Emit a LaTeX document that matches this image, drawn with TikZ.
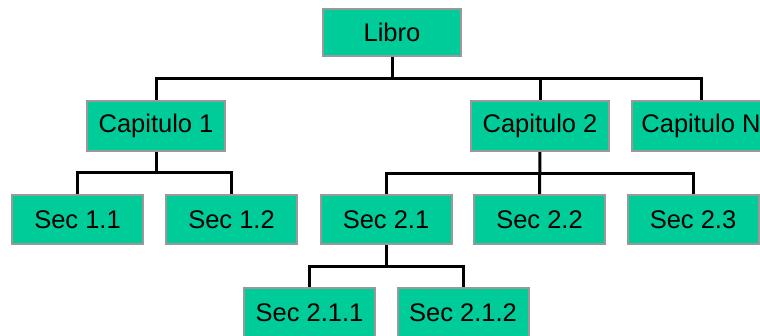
\documentclass[tikz,border=0pt]{standalone}
\usepackage{fontspec}
\setmainfont{Liberation Sans}
\definecolor{caja}{HTML}{00CC99}
\definecolor{borde}{HTML}{999999}
\begin{document}
\begin{tikzpicture}[x=1pt, y=-1pt,
        every node/.style={draw=borde, line width=2pt, fill=caja, inner sep=0pt, font=\fontsize{25.5}{28}\selectfont},
        capbox/.style={minimum width=138pt, minimum height=50pt},
        secbox/.style={minimum width=131pt, minimum height=49pt},
        linea/.style={line width=3pt}]
        \useasboundingbox (0,0) rectangle (760,335);
        \clip (0,0) rectangle (760,335);
        % nivel 0 y 1
        \node[capbox, minimum height=47pt] (libro) at (392,32) {Libro};
        \node[capbox] (c1) at (156,126) {Capitulo 1};
        \node[capbox] (c2) at (540,126) {Capitulo 2};
        \node[capbox] (cn) at (701,126) {Capitulo N};
        % secciones
        \node[secbox] (s11) at (77.5,219.5) {Sec 1.1};
        \node[secbox] (s12) at (231.5,219.5) {Sec 1.2};
        \node[secbox] (s21) at (386,219.5) {Sec 2.1};
        \node[secbox] (s22) at (539.5,219.5) {Sec 2.2};
        \node[secbox] (s23) at (693,219.5) {Sec 2.3};
        \node[secbox] (s211) at (309.5,312.5) {Sec 2.1.1};
        \node[secbox] (s212) at (463,312.5) {Sec 2.1.2};
        % barras horizontales
        \coordinate (b0) at (392,78);
        \coordinate (b1) at (156,172);
        \coordinate (b2) at (540,173);
        \coordinate (b3) at (386,266);
        \draw[linea] (libro) -- (b0);
        \draw[linea] (b0) -| (c1);
        \draw[linea] (b0) -| (c2);
        \draw[linea] (b0) -| (cn);
        \draw[linea] (c1) -- (b1);
        \draw[linea] (b1) -| (s11);
        \draw[linea] (b1) -| (s12);
        \draw[linea] (c2) -- (s22);
        \draw[linea] (b2) -| (s21);
        \draw[linea] (b2) -| (s23);
        \draw[linea] (s21) -- (b3);
        \draw[linea] (b3) -| (s211);
        \draw[linea] (b3) -| (s212);
\end{tikzpicture}
\end{document}
